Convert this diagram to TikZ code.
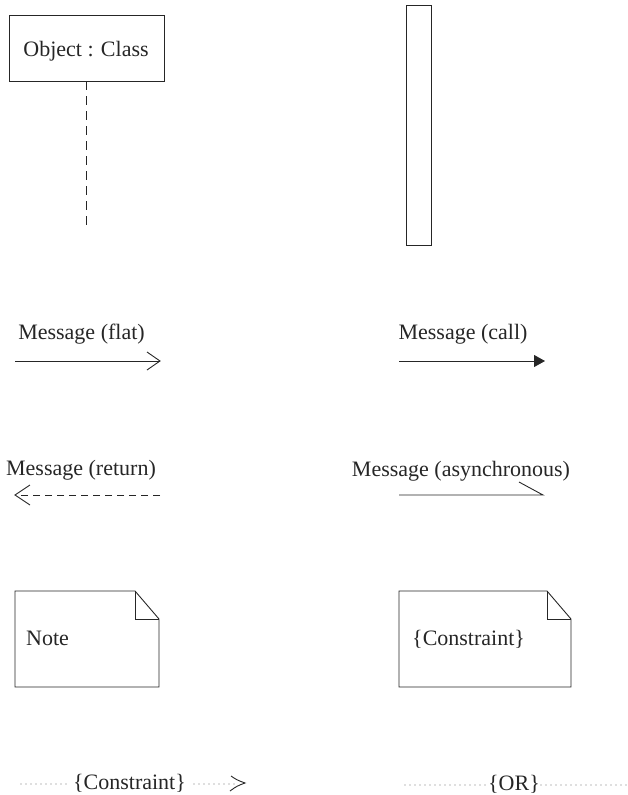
\documentclass[tikz,border=0pt]{standalone}
\usepackage{fontspec}
\setmainfont{Liberation Serif}
\usetikzlibrary{arrows.meta}
\begin{document}
\begin{tikzpicture}[x=1pt,y=-1pt,
  ink/.style={draw=black!85,line width=0.9pt},
  lbl/.style={font=\fontsize{22}{25}\selectfont,inner sep=0pt,anchor=base,text=black!85},
  dots/.style={draw=black!55,line width=1.2pt,line cap=round,dash pattern=on 0pt off 5pt},
  callhead/.style={-{Triangle[length=11pt,width=12pt]}}]
\useasboundingbox (0,0) rectangle (627,795);

% object with its lifeline
\node[ink,minimum width=155pt,minimum height=66pt,inner sep=0pt] (obj) at (86.5,48) {};
\node[lbl] (objtxt) at (86,56) {Object : Class};
\coordinate (lifeend) at (86.5,227);
\draw[ink,dash pattern=on 9pt off 6pt] (obj.south) -- (lifeend);

% activation bar
\node[ink,minimum width=25pt,minimum height=240pt,inner sep=0pt] (act) at (418.5,125) {};

% flat message
\node[lbl] (flattxt) at (81.5,339) {Message (flat)};
\coordinate (flatA) at (15,361);
\coordinate (flatB) at (160,361);
\draw[ink] (flatA) -- (flatB);
\draw[ink,line join=miter] ([shift={(-13,-9)}]flatB) -- (flatB) -- ([shift={(-13,9)}]flatB);

% call message
\node[lbl] (calltxt) at (463,339) {Message (call)};
\coordinate (callA) at (399,361);
\coordinate (callB) at (545,361);
\draw[ink,callhead] (callA) -- (callB);

% return message
\node[lbl] (rettxt) at (81,475) {Message (return)};
\coordinate (retA) at (160,495);
\coordinate (retB) at (15,495);
\draw[ink,dash pattern=on 7pt off 5pt] (retA) -- ([xshift=4pt]retB);
\draw[ink,line join=miter] ([shift={(15,-10)}]retB) -- (retB) -- ([shift={(15,10)}]retB);

% asynchronous message
\node[lbl] (asytxt) at (461,476) {Message (asynchronous)};
\coordinate (asyA) at (399,495);
\coordinate (asyB) at (543,495);
\coordinate (asyC) at (519,482);
\draw[ink] (asyA) -- (asyB) -- (asyC);

% note
\draw[ink] (15,591) -- (135,591) -- (159,619) -- (159,687) -- (15,687) -- cycle;
\draw[ink] (135,591) -- (135,619) -- (159,619);
\node[lbl,anchor=base west] (notetxt) at (26,645) {Note};

% constraint note
\draw[ink] (399,591) -- (547,591) -- (571,619) -- (571,687) -- (399,687) -- cycle;
\draw[ink] (547,591) -- (547,619) -- (571,619);
\node[lbl,anchor=base west] (constxt) at (412,645) {\{Constraint\}};

% constraint on a dependency
\node[lbl] (dep) at (129.5,789) {\{Constraint\}};
\coordinate (depA) at (21,784);
\coordinate (depB) at (66,784);
\coordinate (depC) at (194,784);
\coordinate (depD) at (245,783);
\draw[dots] (depA) -- (depB);
\draw[dots] (depC) -- (234,784);
\draw[ink] (231,776) .. controls (237,780) .. (depD) .. controls (237,786) .. (230,791);

% or-constraint
\node[lbl] (ortxt) at (514,790) {\{OR\}};
\coordinate (orA) at (405,785);
\coordinate (orB) at (487,785);
\coordinate (orC) at (541,785);
\coordinate (orD) at (626,785);
\draw[dots] (orA) -- (orB);
\draw[dots] (orC) -- (orD);
\end{tikzpicture}
\end{document}
